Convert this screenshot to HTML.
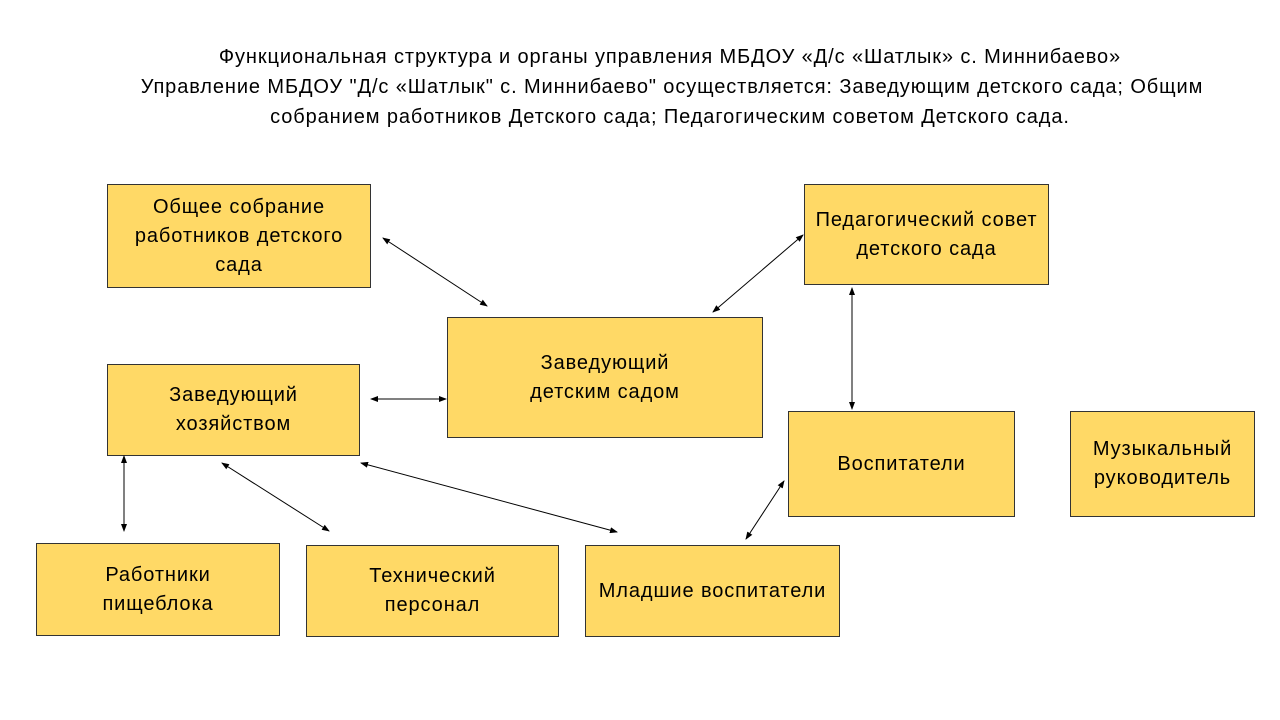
<!DOCTYPE html><html><head><meta charset="utf-8"><style>
body{margin:0;width:1280px;height:720px;background:#fff;position:relative;font-family:"Liberation Sans","DejaVu Sans",sans-serif;overflow:hidden}
.t{position:absolute;left:0;width:1280px;text-align:center;font-size:20px;letter-spacing:0.9px;color:#000;line-height:30px;white-space:nowrap}
.b{position:absolute;background:#FFD966;border:1px solid #333;box-sizing:border-box;display:flex;align-items:center;justify-content:center;text-align:center;font-size:20px;letter-spacing:0.9px;line-height:29px;color:#000}
svg{position:absolute;left:0;top:0}
</style></head><body>
<div class="t" style="top:42px;left:30px">Функциональная структура и органы управления МБДОУ «Д/с «Шатлык» с. Миннибаево»</div>
<div class="t" style="top:72px;left:32px">Управление МБДОУ "Д/с «Шатлык" с. Миннибаево" осуществляется: Заведующим детского сада; Общим</div>
<div class="t" style="top:102px;left:30px">собранием работников Детского сада; Педагогическим советом Детского сада.</div>
<div class="b" style="left:107px;top:184px;width:264px;height:104px">Общее собрание<br>работников детского<br>сада</div>
<div class="b" style="left:804px;top:184px;width:245px;height:101px">Педагогический совет<br>детского сада</div>
<div class="b" style="left:447px;top:317px;width:316px;height:121px">Заведующий<br>детским садом</div>
<div class="b" style="left:107px;top:364px;width:253px;height:92px">Заведующий<br>хозяйством</div>
<div class="b" style="left:788px;top:411px;width:227px;height:106px">Воспитатели</div>
<div class="b" style="left:1070px;top:411px;width:185px;height:106px">Музыкальный<br>руководитель</div>
<div class="b" style="left:36px;top:543px;width:244px;height:93px">Работники<br>пищеблока</div>
<div class="b" style="left:306px;top:545px;width:253px;height:92px">Технический<br>персонал</div>
<div class="b" style="left:585px;top:545px;width:255px;height:92px">Младшие воспитатели</div>
<svg width="1280" height="720"><defs><marker id="a" markerWidth="8" markerHeight="6" refX="7" refY="3" orient="auto-start-reverse" markerUnits="userSpaceOnUse"><path d="M0,0L8,3L0,6z" fill="#000"/></marker></defs>
<g stroke="#000" stroke-width="1" marker-start="url(#a)" marker-end="url(#a)">
<line x1="383" y1="238" x2="487" y2="306"/>
<line x1="803" y1="235" x2="713" y2="312"/>
<line x1="371" y1="399" x2="446" y2="399"/>
<line x1="852" y1="288" x2="852" y2="409"/>
<line x1="124" y1="456" x2="124" y2="531"/>
<line x1="222" y1="463" x2="329" y2="531"/>
<line x1="361" y1="463" x2="617" y2="532"/>
<line x1="784" y1="481" x2="746" y2="539"/>
</g></svg>
</body></html>
